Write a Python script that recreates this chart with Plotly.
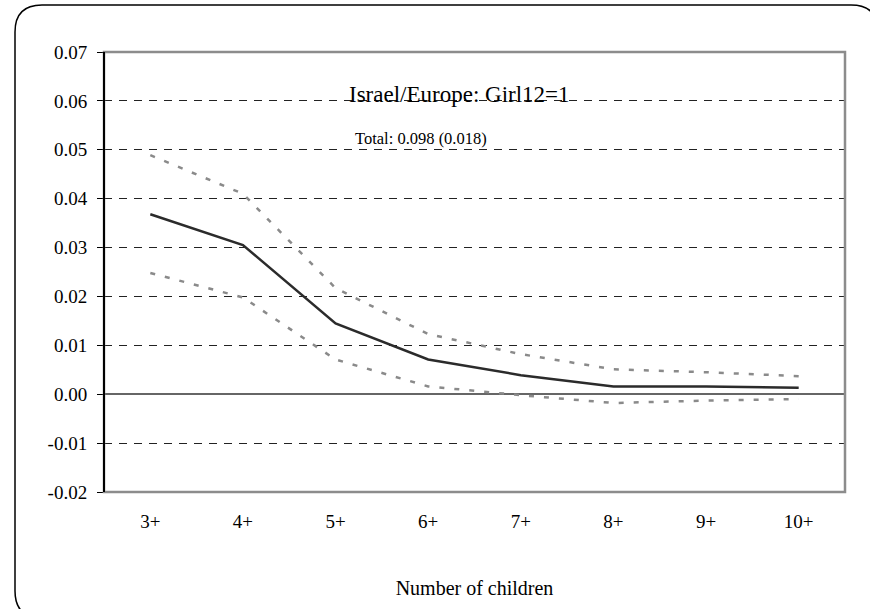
import plotly.graph_objects as go

categories = ["3+", "4+", "5+", "6+", "7+", "8+", "9+", "10+"]
estimate = [0.0368, 0.0305, 0.0145, 0.0071, 0.0039, 0.0016, 0.0016, 0.0013]
upper_ci = [0.0489, 0.0410, 0.0217, 0.0123, 0.0082, 0.0051, 0.0045, 0.0037]
lower_ci = [0.0248, 0.0198, 0.0071, 0.0016, -0.0002, -0.0018, -0.0013, -0.0010]

y_ticks = [-0.02, -0.01, 0.0, 0.01, 0.02, 0.03, 0.04, 0.05, 0.06, 0.07]
y_tick_text = ["-0.02", "-0.01", "0.00", "0.01", "0.02", "0.03", "0.04", "0.05", "0.06", "0.07"]

title_text = "Israel/Europe: Girl12=1"
total_text = "Total: 0.098 (0.018)"
x_title = "Number of children"

FONT = "Liberation Serif"

W, H = 870, 609
L, T = 104, 52
R = W - 845
B = H - 492
pw, ph = W - L - R, H - T - B


def px_x(p):  # screen px -> paper
    return (p - L) / pw


def px_y(p):
    return (H - B - p) / ph


fig = go.Figure()
fig.add_trace(go.Scatter(x=categories, y=upper_ci, mode="lines",
                         line=dict(color="#8a8a8a", width=2.5, dash="5px,10px"),
                         showlegend=False, hoverinfo="skip"))
fig.add_trace(go.Scatter(x=categories, y=lower_ci, mode="lines",
                         line=dict(color="#8a8a8a", width=2.5, dash="5px,10px"),
                         showlegend=False, hoverinfo="skip"))
fig.add_trace(go.Scatter(x=categories, y=estimate, mode="lines",
                         line=dict(color="#2b2b2b", width=2.5),
                         showlegend=False))

fig.update_layout(
    width=W, height=H,
    margin=dict(l=L, r=R, t=T, b=B),
    paper_bgcolor="white", plot_bgcolor="white",
    font=dict(family=FONT, color="black", size=19),
    xaxis=dict(type="category", showgrid=False, zeroline=False, showline=False,
               ticks="outside", ticklen=12, tickcolor="rgba(0,0,0,0)",
               tickfont=dict(size=19, family=FONT),
               title=dict(text=x_title, font=dict(size=20, family=FONT), standoff=50),
               range=[-0.5, 7.5]),
    yaxis=dict(range=[-0.02, 0.07], tickvals=y_ticks, ticktext=y_tick_text,
               showgrid=True, gridcolor="#222", gridwidth=1, griddash="8px,7px",
               zeroline=True, zerolinecolor="#666", zerolinewidth=1.5,
               showline=False,
               ticks="outside", ticklen=6, tickcolor="black", tickwidth=1,
               ticklabelstandoff=6,
               tickfont=dict(size=19, family=FONT)),
)

# plot-area border (gray, Excel style)
fig.add_shape(type="rect", xref="paper", yref="paper", x0=0, x1=1, y0=0, y1=1,
              line=dict(color="#8c8c8c", width=2.5), layer="above")
# left axis line in black
fig.add_shape(type="line", xref="paper", yref="paper", x0=0, x1=0, y0=0, y1=1,
              line=dict(color="black", width=2), layer="above")

# outer rounded rectangle
x0, x1 = px_x(15), px_x(878)
y0, y1 = px_y(618), px_y(5)
rx, ry = 27 / pw, 27 / ph
path = (f"M {x0+rx},{y1} L {x1-rx},{y1} Q {x1},{y1} {x1},{y1-ry} "
        f"L {x1},{y0+ry} Q {x1},{y0} {x1-rx},{y0} "
        f"L {x0+rx},{y0} Q {x0},{y0} {x0},{y0+ry} "
        f"L {x0},{y1-ry} Q {x0},{y1} {x0+rx},{y1} Z")
fig.add_shape(type="path", xref="paper", yref="paper", path=path,
              line=dict(color="black", width=1.5), layer="above")

fig.add_annotation(text=title_text, xref="paper", yref="paper",
                   x=px_x(459), y=px_y(80), showarrow=False,
                   font=dict(size=23, family=FONT, color="black"))
fig.add_annotation(text=total_text, xref="paper", yref="paper",
                   x=px_x(421), y=px_y(127), showarrow=False,
                   font=dict(size=16.5, family=FONT, color="black"))

fig.write_html("out.html",
               config={"displayModeBar": False},
               post_script="document.body.style.margin='0px';"
                           "document.body.style.overflow='hidden';")
